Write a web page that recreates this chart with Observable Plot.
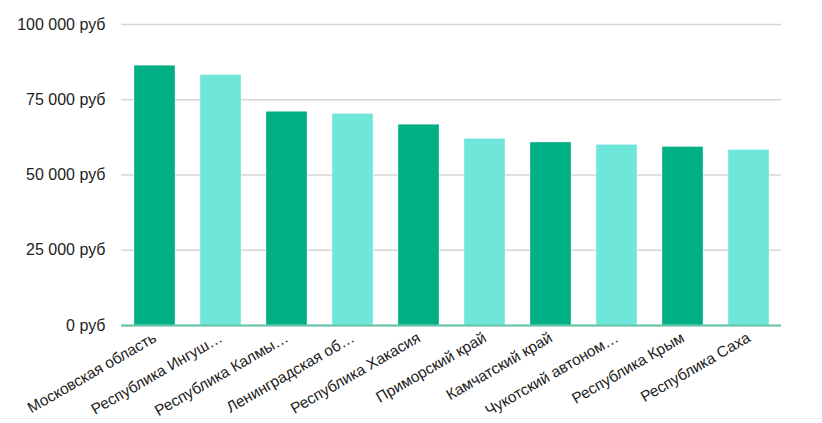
<!DOCTYPE html>
<html>
<head>
<meta charset="utf-8">
<script src="https://cdn.jsdelivr.net/npm/d3@7"></script>
<script src="https://cdn.jsdelivr.net/npm/@observablehq/plot@0.6"></script>
<style>
  html, body { margin: 0; padding: 0; background: #fff; }
  #chart { width: 822px; height: 418px; border-bottom: 1px solid #eeeeee; }
  svg { display: block; font-family: Arial, "Liberation Sans", sans-serif; }
</style>
</head>
<body>
<div id="chart"></div>
<script>
const regions = [
  "Московская область",
  "Республика Ингуш…",
  "Республика Калмы…",
  "Ленинградская об…",
  "Республика Хакасия",
  "Приморский край",
  "Камчатский край",
  "Чукотский автоном…",
  "Республика Крым",
  "Республика Саха"
];
const salaries = [86300, 83200, 71000, 70300, 66700, 62000, 60800, 60000, 59300, 58300];
const barColors = ["#00af84", "#6ee7da"];
const yTicks = [0, 25000, 50000, 75000, 100000];

const data = regions.map((r, i) => ({region: r, value: salaries[i], shade: barColors[i % 2]}));
const fmt = v => d3.format(",")(v).replace(/,/g, " ") + " руб";

const chart = Plot.plot({
  width: 822,
  height: 418,
  marginLeft: 121,
  marginRight: 41,
  marginTop: 24,
  marginBottom: 93,
  style: {fontFamily: "Arial, 'Liberation Sans', sans-serif", fontSize: "16px", color: "#222"},
  x: {domain: regions, paddingInner: 0.38, paddingOuter: 0.19, label: null},
  y: {domain: [0, 100000], ticks: yTicks, label: null},
  marks: [
    Plot.gridY(yTicks, {stroke: "#d6d6d6", strokeOpacity: 1, strokeWidth: 1.3}),
    Plot.axisY(yTicks, {tickSize: 0, tickPadding: 16, tickFormat: fmt, fontSize: 16, fill: "#222"}),
    Plot.barY(data, {x: "region", y: "value", fill: "shade", stroke: "#ffffff", strokeOpacity: 0.35, strokeWidth: 1}),
    Plot.ruleY([0], {stroke: "#5ec4a6", strokeWidth: 2}),
    Plot.axisX({tickSize: 0, tickPadding: 11, tickRotate: -30, fontSize: 15.4, fill: "#222"})
  ]
});
document.getElementById("chart").append(chart);
</script>
</body>
</html>
